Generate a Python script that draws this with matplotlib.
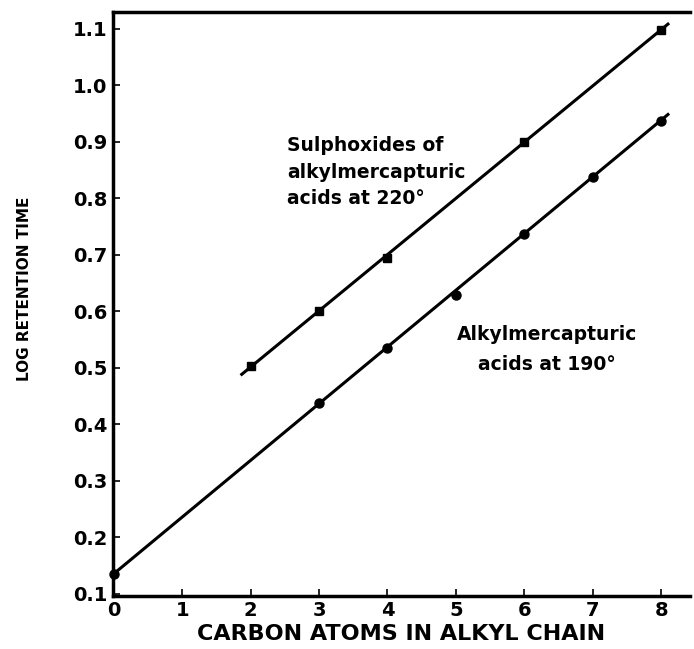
import matplotlib.pyplot as plt

# sulphoxides of alkylmercapturic acids at 220 deg
sulph_x = [2, 3, 4, 6, 8]
sulph_y = [0.502, 0.600, 0.694, 0.900, 1.098]
sulph_line_x = [1.87, 8.1]
sulph_line_y = [0.488, 1.108]

# alkylmercapturic acids at 190 deg
alkyl_x = [0, 3, 4, 5, 6, 7, 8]
alkyl_y = [0.135, 0.437, 0.535, 0.628, 0.737, 0.838, 0.937]
alkyl_line_x = [0, 8.1]
alkyl_line_y = [0.135, 0.948]

xticks = [0, 1, 2, 3, 4, 5, 6, 7, 8]
yticks = [0.1, 0.2, 0.3, 0.4, 0.5, 0.6, 0.7, 0.8, 0.9, 1.0, 1.1]

plt.rcParams['font.family'] = ['DejaVu Sans']

fig = plt.figure(figsize=(6.94, 6.49), dpi=100)
ax = fig.add_axes([0.163, 0.082, 0.831, 0.9])

ax.plot(sulph_line_x, sulph_line_y, color='black', lw=2.2)
ax.plot(sulph_x, sulph_y, 's', color='black', ms=6)
ax.plot(alkyl_line_x, alkyl_line_y, color='black', lw=2.2)
ax.plot(alkyl_x, alkyl_y, 'o', color='black', ms=6.5, clip_on=False)

ax.set_xlim(-0.01, 8.42)
ax.set_ylim(0.096, 1.13)
ax.set_xticks(xticks)
ax.set_xticklabels([str(v) for v in xticks])
ax.set_yticks(yticks)
ax.set_yticklabels(['%.1f' % v for v in yticks])
ax.tick_params(direction='in', length=5, width=1.2, labelsize=14, pad=4)
for lab in ax.get_xticklabels() + ax.get_yticklabels():
    lab.set_fontweight('bold')

ax.spines['right'].set_visible(False)
for s in ['left', 'bottom', 'top']:
    ax.spines[s].set_linewidth(2.5)

ax.set_xlabel('CARBON ATOMS IN ALKYL CHAIN', fontsize=16, fontweight='bold')
ax.xaxis.set_label_coords(0.5, -0.048)
ax.set_ylabel('LOG RETENTION TIME', fontsize=11, fontweight='bold')
ax.yaxis.set_label_coords(-0.1405, 0.526)

ax.text(2.53, 0.846, 'Sulphoxides of\nalkylmercapturic\nacids at 220°', fontsize=13.5,
        fontweight='bold', ha='left', va='center', linespacing=1.5)
ax.text(6.33, 0.532, 'Alkylmercapturic\nacids at 190°', fontsize=13.5,
        fontweight='bold', ha='center', va='center', linespacing=1.7)

plt.savefig('out.png')
